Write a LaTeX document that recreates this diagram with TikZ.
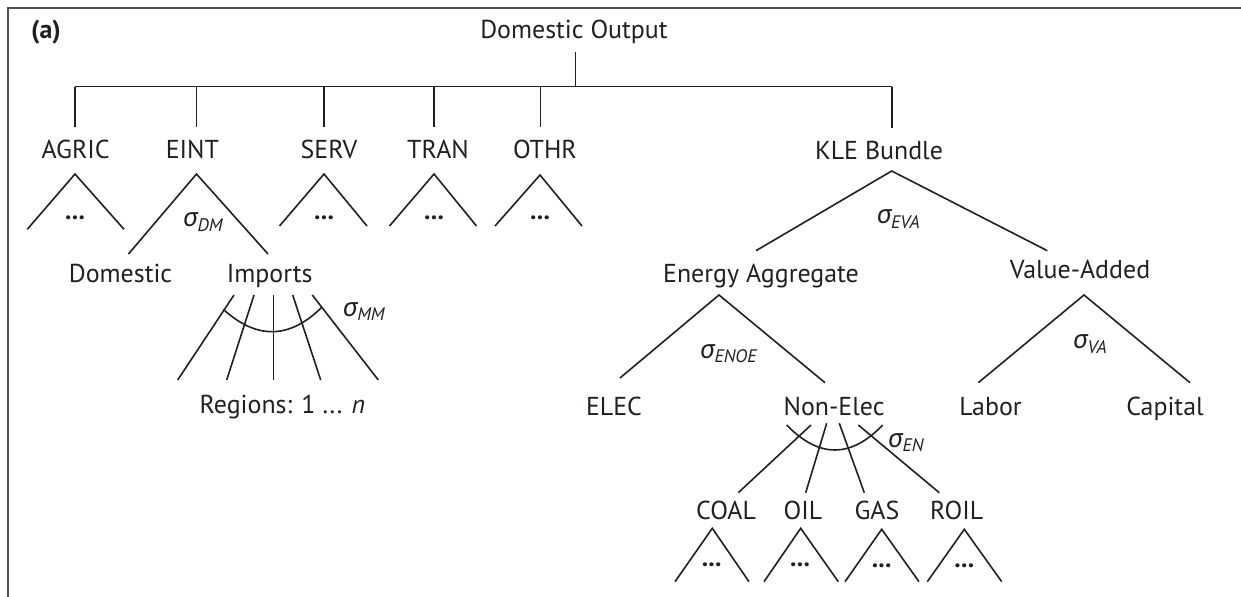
\documentclass[tikz,border=0pt]{standalone}
\usepackage{fontspec}
\setmainfont{PT Sans}
\newfontfamily\grfont{Noto Sans}
\definecolor{ink}{HTML}{231F20}
\definecolor{framec}{HTML}{505050}
\begin{document}
\begin{tikzpicture}[x=1bp,y=-1bp,
  lbl/.style={anchor=base, text=ink, font=\fontsize{26}{30}\selectfont, inner sep=0pt},
  boldlbl/.style={lbl, font=\fontsize{26}{30}\selectfont\bfseries},
  sig/.style={anchor=base west, text=ink, font=\fontsize{26}{30}\selectfont, inner sep=0pt},
  dotsnode/.style={anchor=center, text=ink, font=\fontsize{26}{30}\selectfont\bfseries, inner sep=0pt},
  br/.style={draw=ink, line width=1.6bp},
  framestyle/.style={draw=framec, line width=2bp}]
\useasboundingbox (0,0) rectangle (1241,597);
% frame
\coordinate (fbl) at (8,610);
\coordinate (ftl) at (8,8);
\coordinate (ftr) at (1250,8);
\draw[framestyle] (fbl) -- (ftl) -- (ftr);
% labels
\node[boldlbl] (lab) at (46,38.5) {(a)};
\node[lbl] (dout) at (574,38.3) {Domestic Output};
\node[lbl] (agric) at (75.7,158.3) {AGRIC};
\node[lbl] (eint) at (192.4,158.3) {EINT};
\node[lbl] (serv) at (329,158.3) {SERV};
\node[lbl] (tran) at (438,158.3) {TRAN};
\node[lbl] (othr) at (545,158.3) {OTHR};
\node[lbl] (kle) at (879,160) {KLE Bundle};
\node[lbl] (dom) at (120.5,283) {Domestic};
\node[lbl] (imp) at (269.7,283) {Imports};
\node[lbl] (ea) at (761,282.7) {Energy Aggregate};
\node[lbl] (va) at (1080,278.3) {Value-Added};
\node[lbl] (elec) at (614,415) {ELEC};
\node[lbl] (nonelec) at (834,415) {Non-Elec};
\node[lbl] (labor) at (990.5,415) {Labor};
\node[lbl] (capital) at (1165,415) {Capital};
\node[lbl] (regions) at (282.5,413.3) {Regions: 1 ... \textit{n}};
\node[lbl] (coal) at (726,519) {COAL};
\node[lbl] (oil) at (803,519) {OIL};
\node[lbl] (gas) at (877,519) {GAS};
\node[lbl] (roil) at (956.7,519) {ROIL};
% sigmas
\node[sig] (sdm) at (183,227) {{\grfont\itshape σ}\textsubscript{\itshape DM}};
\node[sig] (smm) at (342.7,316.7) {{\grfont\itshape σ}\textsubscript{\itshape MM}};
\node[sig] (seva) at (876.6,224) {{\grfont\itshape σ}\textsubscript{\itshape EVA}};
\node[sig] (senoe) at (700,358.3) {{\grfont\itshape σ}\textsubscript{\itshape ENOE}};
\node[sig] (sva) at (1073,349) {{\grfont\itshape σ}\textsubscript{\itshape VA}};
\node[sig] (sen) at (888,447) {{\grfont\itshape σ}\textsubscript{\itshape EN}};
% dots
\node[dotsnode] (d1) at (75,218.3) {...};
\node[dotsnode] (d2) at (324,218.3) {...};
\node[dotsnode] (d3) at (434,218.3) {...};
\node[dotsnode] (d4) at (540,218.3) {...};
\node[dotsnode] (d5) at (711.7,565) {...};
\node[dotsnode] (d6) at (800,565) {...};
\node[dotsnode] (d7) at (881.7,566) {...};
\node[dotsnode] (d8) at (964.3,566) {...};
% top bracket
\coordinate (dtop) at (575.3,51.7);
\coordinate (dbar) at (575.3,86.7);
\coordinate (barL) at (75,86.7);
\coordinate (barR) at (892,86.7);
\draw[br] (dtop) -- (dbar);
\draw[br] (barL) -- (barR);
\foreach \n/\x in {agric/75,eint/196.5,serv/324,tran/434,othr/540.5}{
  \coordinate (\n-u) at (\x,86.7);
  \coordinate (\n-d) at (\x,127);
  \draw[br] (\n-u) -- (\n-d);
}
\coordinate (kle-u) at (892,86.7);
\coordinate (kle-d) at (892,128.3);
\draw[br] (kle-u) -- (kle-d);
% triangles
\foreach \n/\ax/\ay/\lx/\ly/\rx/\ry in {
  tagric/75/174/27.3/229.3/124/229.3,
  teint/196.5/174/128.5/254/268/254,
  tserv/324/174/279.5/226/367/226,
  ttran/434/174/389.5/226/476.5/226,
  tothr/540/175/495/226/582/226,
  tkle/891.7/171/756/250.7/1047.3/250.7,
  tea/719/295/620/378/825/382.7,
  tva/1084/295/978.3/382.7/1190/382.7,
  tcoal/712.3/528.3/675/581.7/749/581.7,
  toil/800.7/528.3/764/581.7/838.3/581.7,
  tgas/881.7/529.3/845/581.7/919/581.7,
  troil/964.3/529.3/927.3/581.7/1001.7/581.7}{
  \coordinate (\n-a) at (\ax,\ay);
  \coordinate (\n-l) at (\lx,\ly);
  \coordinate (\n-r) at (\rx,\ry);
  \draw[br] (\n-l) -- (\n-a) -- (\n-r);
}
% imports fan
\foreach \i/\tx/\bx in {1/234/177.7,2/254/226.7,3/273.3/273.3,4/292.7/320.7,5/312.3/378.3}{
  \coordinate (im\i-t) at (\tx,295);
  \coordinate (im\i-b) at (\bx,380);
  \draw[br] (im\i-t) -- (im\i-b);
}
\coordinate (imarcL) at (223.3,309.3);
\coordinate (imarcR) at (321.7,307.3);
\draw[br] (imarcL) .. controls (256.6,339.8) and (289.8,339.1) .. (imarcR);
% non-elec fan
\foreach \i/\tx/\ty/\bx in {1/811/425/738.3,2/826.7/423.3/805.7,3/839.3/423.3/864.3,4/858.3/425/939.3}{
  \coordinate (ne\i-t) at (\tx,\ty);
  \coordinate (ne\i-b) at (\bx,492.7);
  \draw[br] (ne\i-t) -- (ne\i-b);
}
\coordinate (nearcL) at (786.7,425);
\coordinate (nearcR) at (882.7,425);
\draw[br] (nearcL) .. controls (818.9,458.3) and (850.9,458.3) .. (nearcR);
\end{tikzpicture}
\end{document}
